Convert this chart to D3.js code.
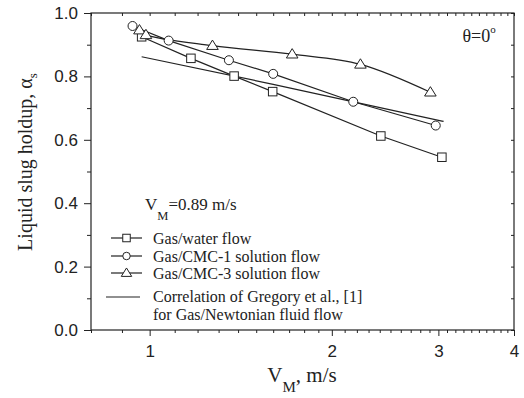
<!DOCTYPE html>
<html>
<head>
<meta charset="utf-8">
<script src="https://cdn.jsdelivr.net/npm/d3@7"></script>
<style>
  html,body{margin:0;padding:0;background:#fff;}
  svg{display:block;}
  .tk text{font-family:"Liberation Sans",Arial,sans-serif;font-size:17px;fill:#222;}
  .tk line{stroke:#222;stroke-width:1;}
  .serif{font-family:"Liberation Serif","Times New Roman",serif;fill:#222;}
</style>
</head>
<body>
<svg id="chart" width="524" height="398"></svg>
<script>
// values (V_M in m/s, slug holdup)
const waterV = [0.970, 1.170, 1.379, 1.597, 2.41, 3.04];
const waterH = [0.925, 0.857, 0.801, 0.752, 0.612, 0.545];
const cmc1V  = [0.937, 1.075, 1.352, 1.60, 2.17, 2.97];
const cmc1H  = [0.959, 0.913, 0.851, 0.808, 0.720, 0.645];
const cmc3V  = [0.962, 0.986, 1.27, 1.72, 2.23, 2.91];
const cmc3H  = [0.946, 0.931, 0.897, 0.870, 0.838, 0.750];
const corrV  = [0.97, 1.6, 3.06];
const corrH  = [0.862, 0.775, 0.658];

const xMajor = [1, 2, 3, 4];
const xMinor = [0.8, 0.9, 1.1, 1.2, 1.3, 1.4, 1.5, 1.6, 1.7, 1.8, 1.9,
                2.1, 2.2, 2.3, 2.4, 2.5, 2.6, 2.7, 2.8, 2.9,
                3.1, 3.2, 3.3, 3.4, 3.5, 3.6, 3.7, 3.8, 3.9];
const yMajor = [0, 0.2, 0.4, 0.6, 0.8, 1.0];
const yMinor = [0.1, 0.3, 0.5, 0.7, 0.9];

const legendLabels = ["Gas/water flow", "Gas/CMC-1 solution flow", "Gas/CMC-3 solution flow"];

const L = 91, R = 514, T = 13, B = 330;
const svg = d3.select("#chart");
const x = d3.scaleLog().domain([0.8, 4]).range([L, R]);
const y = d3.scaleLinear().domain([0, 1]).range([B, T]);

function addAxis(gen, cls, tr){
  const g = svg.append("g").attr("class", "tk").attr("transform", tr).call(gen);
  g.select(".domain").remove();
  return g;
}
// outer ticks with labels
addAxis(d3.axisBottom(x).tickValues(xMajor).tickFormat(d3.format("d")).tickSize(6).tickPadding(9), "", `translate(0,${B})`);
addAxis(d3.axisBottom(x).tickValues(xMinor).tickFormat("").tickSize(3), "", `translate(0,${B})`);
addAxis(d3.axisLeft(y).tickValues(yMajor).tickFormat(d3.format(".1f")).tickSize(7).tickPadding(6), "", `translate(${L},0)`);
addAxis(d3.axisLeft(y).tickValues(yMinor).tickFormat("").tickSize(4), "", `translate(${L},0)`);
// mirrored inner ticks
addAxis(d3.axisTop(x).tickValues(xMajor.concat(xMinor)).tickFormat("").tickSize(-3), "", `translate(0,${T})`);
addAxis(d3.axisRight(y).tickValues(yMajor.concat(yMinor)).tickFormat("").tickSize(-3), "", `translate(${R},0)`);

svg.append("rect").attr("x", L).attr("y", T).attr("width", R - L).attr("height", B - T)
  .attr("fill", "none").attr("stroke", "#222").attr("stroke-width", 1.2);

const series = [
  {v: waterV, h: waterH, shape: "square", curve: d3.curveLinear},
  {v: cmc1V,  h: cmc1H,  shape: "circle", curve: d3.curveLinear},
  {v: cmc3V,  h: cmc3H,  shape: "triangle", curve: d3.curveCatmullRom}
];

function marker(g, shape, cx, cy, s){
  if(shape === "square"){
    g.append("rect").attr("x", cx - s/2).attr("y", cy - s/2).attr("width", s).attr("height", s);
  } else if(shape === "circle"){
    g.append("circle").attr("cx", cx).attr("cy", cy).attr("r", s/2);
  } else {
    const h = s * 0.9;
    g.append("path").attr("d", `M${cx},${cy - h*0.62}L${cx + s*0.58},${cy + h*0.42}L${cx - s*0.58},${cy + h*0.42}Z`);
  }
}

// correlation line
const corr = corrV.map((v, i) => [v, corrH[i]]);
svg.append("path").attr("d", d3.line().x(d => x(d[0])).y(d => y(d[1])).curve(d3.curveMonotoneX)(corr))
  .attr("fill", "none").attr("stroke", "#222").attr("stroke-width", 1.2);

series.forEach(s => {
  const pts = s.v.map((v, i) => [v, s.h[i]]);
  svg.append("path").attr("d", d3.line().x(d => x(d[0])).y(d => y(d[1])).curve(s.curve)(pts))
    .attr("fill", "none").attr("stroke", "#222").attr("stroke-width", 1.2);
});
series.forEach(s => {
  const g = svg.append("g").attr("fill", "#fff").attr("stroke", "#222").attr("stroke-width", 1);
  s.v.forEach((v, i) => marker(g, s.shape, x(v), y(s.h[i]), s.shape === "triangle" ? 10 : (s.shape === "circle" ? 9 : 8.5)));
});

// legend
const legY = [238, 256, 273];
const legBase = [244, 262, 279];
series.forEach((s, i) => {
  svg.append("line").attr("x1", 111).attr("x2", 142).attr("y1", legY[i]).attr("y2", legY[i])
    .attr("stroke", "#222").attr("stroke-width", 1.2);
  const g = svg.append("g").attr("fill", "#fff").attr("stroke", "#222").attr("stroke-width", 1);
  marker(g, s.shape, 126.5, legY[i], s.shape === "triangle" ? 9 : 7.5);
  svg.append("text").attr("class", "serif").attr("x", 153).attr("y", legBase[i])
    .attr("font-size", 16).text(legendLabels[i]);
});
svg.append("line").attr("x1", 106).attr("x2", 140).attr("y1", 297).attr("y2", 297)
  .attr("stroke", "#222").attr("stroke-width", 1.2);
svg.append("text").attr("class", "serif").attr("x", 153).attr("y", 302).attr("font-size", 16)
  .text("Correlation of Gregory et al., [1]");
svg.append("text").attr("class", "serif").attr("x", 153).attr("y", 320).attr("font-size", 16)
  .text("for Gas/Newtonian fluid flow");

// V_M note
const vm = svg.append("text").attr("class", "serif").attr("x", 145).attr("y", 210).attr("font-size", 17);
vm.append("tspan").text("V");
vm.append("tspan").attr("font-size", 12.5).attr("dy", 9.5).text("M");
vm.append("tspan").attr("dy", -9.5).text("=0.89 m/s");

// angle note
const th = svg.append("text").attr("class", "serif").attr("x", 462.5).attr("y", 42).attr("font-size", 18);
th.append("tspan").text("θ=0");
th.append("tspan").attr("font-size", 11).attr("dy", -9).text("o");

// axis titles
const xt = svg.append("text").attr("class", "serif").attr("x", 302).attr("y", 382)
  .attr("text-anchor", "middle").attr("font-size", 21);
xt.append("tspan").text("V");
xt.append("tspan").attr("font-size", 15).attr("dy", 10).text("M");
xt.append("tspan").attr("dy", -10).text(", m/s");

const yt = svg.append("text").attr("class", "serif").attr("transform", "translate(32,162) rotate(-90)")
  .attr("text-anchor", "middle").attr("font-size", 20);
yt.append("tspan").text("Liquid slug holdup, α");
yt.append("tspan").attr("font-size", 13).attr("dy", 5).text("s");
</script>
</body>
</html>
